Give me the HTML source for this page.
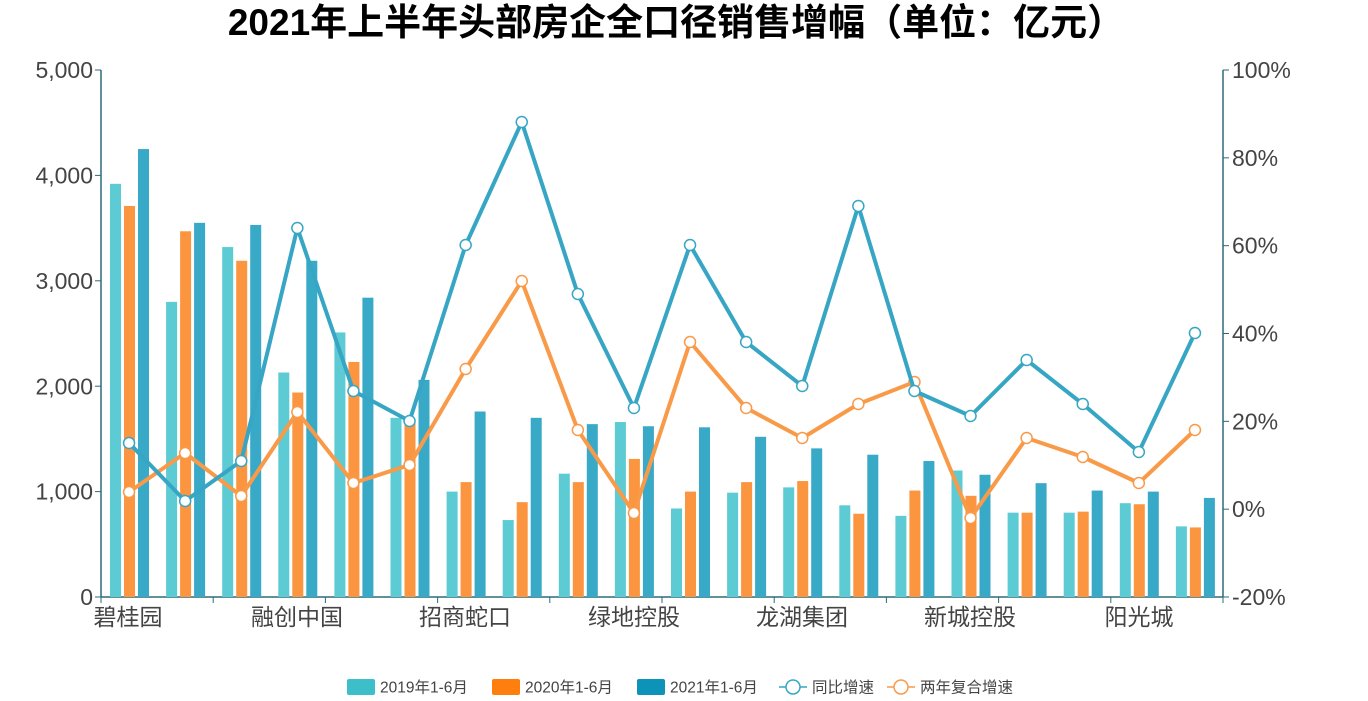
<!DOCTYPE html>
<html><head><meta charset="utf-8">
<style>
html,body{margin:0;padding:0;background:#fff;}
svg{display:block;font-family:"Liberation Sans","Noto Sans CJK SC",sans-serif;}
</style></head>
<body>
<svg id="c" width="1368" height="701" viewBox="0 0 1368 701" xmlns="http://www.w3.org/2000/svg"></svg>
<script>
const s=[];
const L=101,R=1223,T=70,B=597,W=(R-L)/20;
s.push('<text x="676" y="22" text-anchor="middle" font-size="37" font-weight="bold" fill="#000" dy="0.35em">2021年上半年头部房企全口径销售增幅（单位：亿元）</text>');
const ax='#2d6a78';
s.push(`<line x1="${L}" y1="${T}" x2="${L}" y2="${B}" stroke="${ax}" stroke-width="1.5"/>`);
s.push(`<line x1="${R}" y1="${T}" x2="${R}" y2="${B}" stroke="${ax}" stroke-width="1.5"/>`);
s.push(`<line x1="${L}" y1="${B}" x2="${R}" y2="${B}" stroke="${ax}" stroke-width="1.5"/>`);
const ll=['0','1,000','2,000','3,000','4,000','5,000'];
for(let i=0;i<=5;i++){const y=B-i*(B-T)/5;
 s.push(`<line x1="${L-6}" y1="${y}" x2="${L}" y2="${y}" stroke="${ax}"/>`);
 s.push(`<text x="${L-8}" y="${y}" dy="0.35em" text-anchor="end" font-size="23" fill="#444">${ll[i]}</text>`);}
const rl=['-20%','0%','20%','40%','60%','80%','100%'];
for(let i=0;i<=6;i++){const y=B-i*(B-T)/6;
 s.push(`<line x1="${R}" y1="${y}" x2="${R+6}" y2="${y}" stroke="${ax}"/>`);
 s.push(`<text x="${R+9}" y="${y}" dy="0.35em" text-anchor="start" font-size="23" fill="#444">${rl[i]}</text>`);}
const names=['碧桂园','融创中国','招商蛇口','绿地控股','龙湖集团','新城控股','阳光城'];
for(let i=0;i<=10;i++){const x=L+i*2*W;s.push(`<line x1="${x}" y1="${B}" x2="${x}" y2="${B+6}" stroke="${ax}"/>`);}
const labX=[128,297,465,634,802,970,1139];
names.forEach((n,i)=>s.push(`<text x="${labX[i]}" y="617" dy="0.35em" text-anchor="middle" font-size="23" fill="#444">${n}</text>`));
const d=[[3920,3710,4250],[2800,3470,3550],[3320,3190,3530],[2130,1940,3190],[2510,2230,2840],[1700,1650,2060],[1000,1090,1760],[730,900,1700],[1170,1090,1640],[1660,1310,1620],[840,1000,1610],[990,1090,1520],[1040,1100,1410],[870,790,1350],[770,1010,1290],[1200,960,1160],[800,800,1080],[800,810,1010],[890,880,1000],[670,660,940]];
const bc=['#5ccbd3','#fb9540','#38a9c7'];
d.forEach((v,i)=>{const x0=L+i*W;[9,23,37].forEach((o,j)=>{const h=v[j]*(B-T)/5000;
 s.push(`<rect x="${x0+o}" y="${B-h}" width="11" height="${h}" fill="${bc[j]}"/>`);});});
const a=[443,501,461,228,391,421,245,122,294,408,245,342,386,206,391,416,360,404,452,333];
const b=[492,453,496,412,483,465,369,281,430,513,342,408,438,404,382,518,438,457,483,430];
function line(p,c){const pts=p.map((y,i)=>`${L+W*i+W/2},${y}`).join(' ');
 s.push(`<polyline points="${pts}" fill="none" stroke="${c}" stroke-width="4" stroke-linejoin="round"/>`);
 p.forEach((y,i)=>s.push(`<circle cx="${L+W*i+W/2}" cy="${y}" r="5.5" fill="#fff" stroke="${c}" stroke-width="1.5"/>`));}
line(b,'#f99a49');line(a,'#37a6c4');
const ly=687;
[['2019年1-6月','#3dbfc9',347],['2020年1-6月','#ff7f0e',492],['2021年1-6月','#0e93b8',637]].forEach(([t,c,x])=>{
 s.push(`<rect x="${x}" y="${ly-8}" width="28" height="16" rx="2" fill="${c}"/>`);
 s.push(`<text x="${x+33}" y="${ly}" dy="0.35em" font-size="15.5" fill="#444">${t}</text>`);});
[['同比增速','#37a6c4',779],['两年复合增速','#f99a49',887]].forEach(([t,c,x])=>{
 s.push(`<line x1="${x}" y1="${ly}" x2="${x+28}" y2="${ly}" stroke="${c}" stroke-width="1.5"/>`);
 s.push(`<circle cx="${x+14}" cy="${ly}" r="7" fill="#fff" stroke="${c}" stroke-width="1.5"/>`);
 s.push(`<text x="${x+33}" y="${ly}" dy="0.35em" font-size="15.5" fill="#444">${t}</text>`);});
document.getElementById('c').innerHTML=s.join('');
</script>
</body></html>
